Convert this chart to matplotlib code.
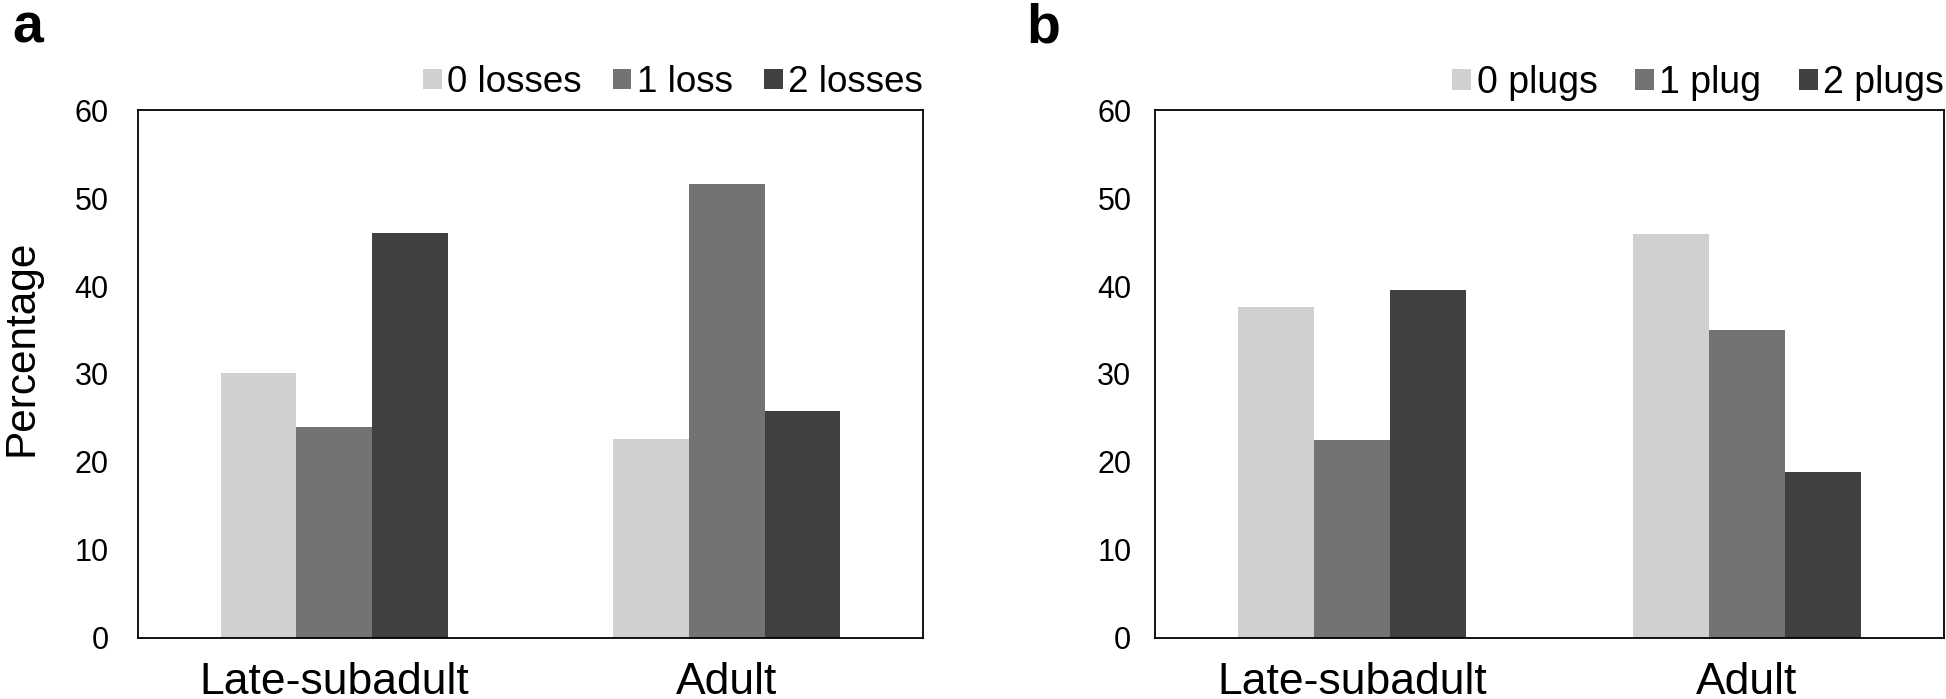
import matplotlib
matplotlib.use("Agg")
import matplotlib.pyplot as plt
import numpy as np
from matplotlib.patches import Patch

plt.rcParams['font.family'] = ['Liberation Sans', 'DejaVu Sans']

categories = ["Late-subadult", "Adult"]
series_a = ["0 losses", "1 loss", "2 losses"]
values_a = [[30.1, 22.6], [24.0, 51.6], [46.0, 25.8]]
series_b = ["0 plugs", "1 plug", "2 plugs"]
values_b = [[37.6, 45.9], [22.5, 35.0], [39.5, 18.9]]
yticks = [0, 10, 20, 30, 40, 50, 60]
colors = ["#d0d0d0", "#737373", "#404040"]

fig = plt.figure(figsize=(19.46, 6.99), dpi=100)

def draw(rect, series, values, ypad, letter, letter_x, show_ylabel, legfs, colsp):
    ax = fig.add_axes(rect)
    x = np.arange(len(categories))
    w = 0.193
    for i, (name, vals) in enumerate(zip(series, values)):
        ax.bar(x + (i - 1) * w, vals, width=w, color=colors[i], label=name,
               linewidth=0)
    ax.set_xlim(-0.5, 1.5)
    ax.set_ylim(0, 60)
    ax.set_yticks(yticks)
    ax.set_yticklabels([str(t) for t in yticks])
    ax.set_xticks(x)
    ax.set_xticklabels(categories)
    ax.tick_params(axis='y', length=0, pad=ypad, labelsize=22)
    ax.tick_params(axis='x', length=0, pad=17, labelsize=32)
    for s in ax.spines.values():
        s.set_linewidth(1.3)
        s.set_color('black')
    if show_ylabel:
        ax.set_ylabel("Percentage", fontsize=30.5)
        ax.yaxis.set_label_coords(-0.123, 0.55)
    handles = [Patch(facecolor=c, edgecolor='none') for c in colors]
    ax.legend(handles, series, loc='center right', bbox_to_anchor=(1.0, 1.052),
              ncol=3, frameon=False, fontsize=legfs, borderpad=0,
              borderaxespad=0, handlelength=0.5, handleheight=0.48,
              handletextpad=0.15, columnspacing=colsp)
    fig.text(letter_x, 0.9385, letter, fontsize=40, fontweight='bold',
             va='baseline', ha='left')
    return ax

draw([0.0709, 0.0873, 0.4034, 0.7553], series_a, values_a, 21, "a", 0.0062,
     True, 26.5, 0.85)
draw([0.5935, 0.0873, 0.4055, 0.7553], series_b, values_b, 17, "b", 0.5275,
     False, 27, 1.0)

fig.savefig("out.png", dpi=100)
